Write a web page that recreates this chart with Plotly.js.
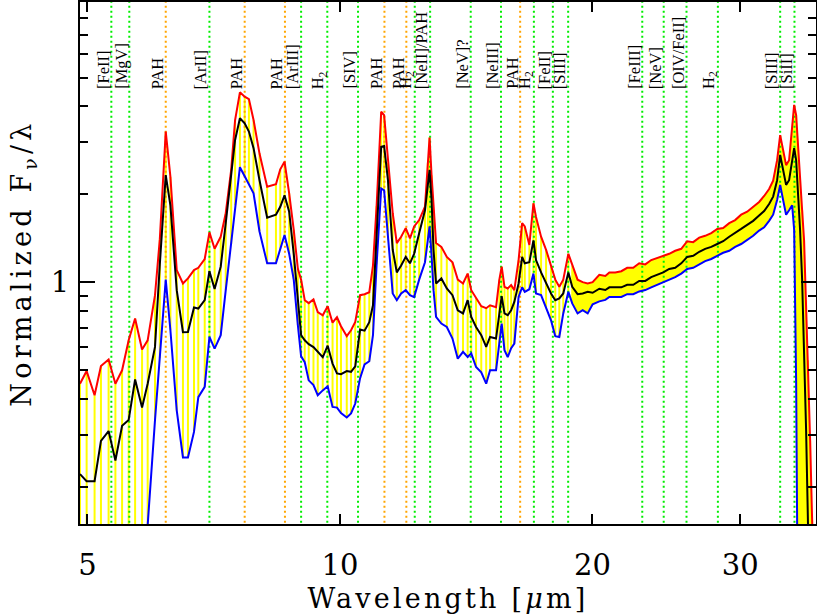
<!DOCTYPE html>
<html><head><meta charset="utf-8">
<script src="https://cdn.plot.ly/plotly-3.0.1.min.js"></script>
<style>
html,body{margin:0;padding:0;background:#fff;}
#chart{width:817px;height:615px;}
.xtitle{letter-spacing:3.2px;}
.ytitle{letter-spacing:4.2px;}
</style>
</head><body><div id="chart"></div>
<script>
const wavelength = [4.90,4.99,5.10,5.19,5.30,5.40,5.50,5.60,5.70,5.81,5.90,6.02,6.10,6.20,6.28,6.39,6.50,6.59,6.70,6.78,6.90,6.99,7.09,7.21,7.31,7.42,7.50,7.60,7.70,7.79,7.89,8.02,8.19,8.39,8.49,8.59,8.70,8.81,8.91,8.99,9.08,9.18,9.30,9.41,9.54,9.67,9.80,9.92,10.03,10.19,10.31,10.43,10.57,10.70,10.84,10.95,11.06,11.20,11.29,11.41,11.56,11.69,11.83,11.98,12.12,12.26,12.43,12.63,12.73,12.79,12.86,12.93,13.02,13.21,13.41,13.62,13.82,14.02,14.20,14.34,14.53,14.74,14.94,15.10,15.35,15.49,15.59,15.71,15.85,16.00,16.14,16.33,16.49,16.61,16.82,17.01,17.13,17.37,17.61,17.85,18.06,18.26,18.46,18.72,18.92,19.20,19.47,19.74,20.01,20.38,20.72,20.95,21.29,21.65,22.00,22.37,22.74,23.12,23.50,23.89,24.29,24.69,25.10,25.52,25.94,26.37,26.81,27.25,27.71,28.17,28.63,29.11,29.59,30.08,30.58,31.09,31.60,32.04,32.48,32.84,33.20,33.48,33.75,34.03,34.31,34.60,34.79,34.98,35.17,35.36,35.56,35.75,35.95,36.15,36.35,36.55,36.75];
const fluxMax = [0.450,0.497,0.411,0.517,0.544,0.450,0.500,0.633,0.751,0.589,0.633,0.903,1.40,3.27,2.29,1.10,0.99,1.03,1.10,1.12,1.20,1.48,1.30,1.43,1.72,2.42,3.58,4.45,4.30,4.22,3.58,2.75,2.12,2.16,2.43,2.58,2.01,1.51,1.11,1.02,0.868,0.848,0.873,0.790,0.771,0.828,0.727,0.759,0.707,0.654,0.685,0.732,0.903,0.910,0.924,1.14,1.82,3.82,3.72,2.55,1.72,1.36,1.43,1.53,1.41,1.55,1.63,1.81,2.55,3.12,2.32,1.76,1.36,1.32,1.22,1.17,1.02,0.99,1.07,0.939,0.882,0.828,0.815,0.834,0.821,1.02,1.13,0.964,0.952,0.977,0.939,1.19,1.59,1.55,1.34,1.86,1.67,1.43,1.29,1.13,1.02,0.964,1.02,1.25,1.14,1.02,1.00,0.99,1.00,1.06,1.05,1.08,1.08,1.09,1.12,1.12,1.16,1.15,1.19,1.21,1.23,1.25,1.28,1.30,1.38,1.37,1.42,1.44,1.47,1.52,1.53,1.59,1.63,1.70,1.74,1.81,1.88,1.97,2.08,2.22,2.61,3.18,2.83,2.51,2.61,3.31,4.03,3.72,2.83,2.23,1.76,1.39,0.868,0.541,0.288,0.154,0.08];
const fluxMean = [0.221,0.209,0.209,0.287,0.310,0.246,0.323,0.338,0.465,0.373,0.450,0.601,1.15,2.32,1.83,0.939,0.675,0.676,0.820,0.813,0.868,1.09,0.948,1.13,1.59,2.29,3.06,3.63,3.49,3.27,2.87,2.23,1.66,1.70,1.81,1.98,1.74,1.25,0.880,0.659,0.633,0.614,0.600,0.578,0.554,0.607,0.527,0.488,0.485,0.497,0.494,0.516,0.689,0.683,0.730,0.834,1.48,2.90,2.92,2.23,1.29,1.08,1.14,1.22,1.16,1.25,1.47,1.76,2.15,2.42,1.91,1.29,0.99,1.03,0.952,0.903,0.802,0.782,0.868,0.761,0.703,0.659,0.601,0.650,0.642,0.782,0.896,0.782,0.771,0.802,0.856,0.99,1.22,1.16,1.17,1.39,1.19,1.08,1.00,0.915,0.868,0.880,0.915,1.08,0.964,0.910,0.915,0.927,0.92,0.95,0.94,0.96,0.96,0.96,0.98,0.98,1.01,1.01,1.04,1.06,1.08,1.11,1.12,1.16,1.22,1.23,1.27,1.30,1.32,1.35,1.38,1.43,1.47,1.52,1.57,1.62,1.69,1.75,1.85,1.96,2.23,2.72,2.42,2.15,2.23,2.61,2.87,2.61,2.06,1.51,1.02,0.586,0.312,0.142,0.06,0.05,0.05];
const fluxMin = [0.10,0.10,0.09,0.11,0.11,0.10,0.11,0.12,0.13,0.12,0.148,0.338,0.55,1.02,0.685,0.365,0.252,0.252,0.308,0.405,0.439,0.650,0.593,0.659,0.939,1.35,1.83,2.47,2.30,2.16,2.01,1.49,1.16,1.16,1.30,1.45,1.25,1.02,0.713,0.558,0.533,0.462,0.445,0.411,0.427,0.441,0.375,0.373,0.357,0.345,0.356,0.385,0.470,0.524,0.537,0.659,1.15,2.09,2.06,1.39,0.915,0.868,0.915,0.939,0.903,0.889,1.02,1.17,1.39,1.55,1.24,0.939,0.761,0.722,0.703,0.642,0.548,0.578,0.555,0.571,0.513,0.492,0.450,0.500,0.500,0.617,0.722,0.586,0.555,0.595,0.617,0.891,0.961,0.927,0.946,1.07,0.915,0.903,0.823,0.741,0.654,0.650,0.782,0.927,0.846,0.782,0.802,0.782,0.84,0.86,0.87,0.89,0.89,0.89,0.91,0.91,0.93,0.94,0.96,0.98,1.00,1.02,1.04,1.07,1.11,1.12,1.15,1.18,1.20,1.23,1.26,1.28,1.32,1.35,1.39,1.44,1.50,1.54,1.62,1.70,1.91,2.15,1.91,1.70,1.76,1.83,1.51,0.46,0.05,0.05,0.05,0.05,0.05,0.05,0.05,0.05,0.04];

const lineWavelengths = [5.34,5.61,6.2,6.99,7.7,8.6,8.99,9.66,10.51,11.3,12.0,12.28,12.81,14.32,15.56,16.4,17.03,17.94,18.71,22.93,24.32,25.89,28.22,33.48,34.82];
const lineLabels = ['[FeII]','[MgV]','PAH','[ArII]','PAH','PAH','[ArIII]','H<sub>2</sub>','[SIV]','PAH','PAH','H<sub>2</sub>','[NeII]/PAH','[NeV]?','[NeIII]','PAH','H<sub>2</sub>','[FeII]','[SIII]','[FeIII]','[NeV]','[OIV/FeII]','H<sub>2</sub>','[SIII]','[SiII]'];
const lineKinds = ['ion','ion','pah','ion','pah','pah','ion','ion','ion','pah','pah','ion','ion','ion','ion','pah','ion','ion','ion','ion','ion','ion','ion','ion','ion'];

const xTickValues = [5,10,20,30];
const xTickLabels = ['5','10','20','30'];
const yTickValues = [1];
const yTickLabels = ['1'];
const yMinorTicks = [0.2,0.3,0.4,0.5,0.6,0.7,0.8,0.9,2,3,4,5,6,7,8,9];

const solidStart = 18.9;
const serif = 'DejaVu Serif, serif';
const labelFont = 'Liberation Serif, serif';

const hx = [], hy = [];
wavelength.forEach((w, i) => { hx.push(w, w, null); hy.push(fluxMin[i], fluxMax[i], null); });

const sx = [], sy = [];
wavelength.forEach((w, i) => { if (w >= solidStart) { sx.push(w); sy.push(fluxMin[i]); } });
for (let i = wavelength.length - 1; i >= 0; i--) { if (wavelength[i] >= solidStart) { sx.push(wavelength[i]); sy.push(fluxMax[i]); } }

function markerLines(kind) {
  const x = [], y = [];
  lineWavelengths.forEach((w, i) => { if (lineKinds[i] === kind) { x.push(w, w, null); y.push(0.01, 100, null); } });
  return {x, y};
}
const ion = markerLines('ion'), pah = markerLines('pah');

const traces = [
  {x: hx, y: hy, mode: 'lines', line: {color: '#ffff00', width: 2}, hoverinfo: 'skip', showlegend: false},
  {x: sx, y: sy, mode: 'lines', fill: 'toself', fillcolor: '#ffff00', line: {width: 0}, hoverinfo: 'skip', showlegend: false},
  {x: ion.x, y: ion.y, mode: 'lines', line: {color: '#00ee00', width: 2, dash: '2px,3px'}, hoverinfo: 'skip', showlegend: false},
  {x: pah.x, y: pah.y, mode: 'lines', line: {color: '#ffa500', width: 2, dash: '2px,3px'}, hoverinfo: 'skip', showlegend: false},
  {x: wavelength, y: fluxMin, mode: 'lines', line: {color: '#0000ff', width: 2}, hoverinfo: 'skip', showlegend: false},
  {x: wavelength, y: fluxMax, mode: 'lines', line: {color: '#ff0000', width: 2}, hoverinfo: 'skip', showlegend: false},
  {x: wavelength, y: fluxMean, mode: 'lines', line: {color: '#000000', width: 2}, hoverinfo: 'skip', showlegend: false}
];

const annotations = lineWavelengths.map((w, i) => ({
  x: Math.log10(w), xref: 'x', y: 0.8313, yref: 'paper',
  text: lineLabels[i], showarrow: false, textangle: -90,
  xanchor: 'right', yanchor: 'bottom', borderpad: 0, xshift: 2,
  font: {family: labelFont, size: 16.5, color: '#000'}
}));

const layout = {
  width: 817, height: 615,
  margin: {l: 80, r: 1, t: 2, b: 91},
  paper_bgcolor: '#fff', plot_bgcolor: '#fff',
  showlegend: false,
  xaxis: {
    type: 'log', range: [Math.log10(4.90), Math.log10(36.94)],
    tickmode: 'array', tickvals: xTickValues, ticktext: xTickLabels,
    ticks: 'inside', ticklen: 10, tickwidth: 2, tickcolor: '#000',
    showline: true, linecolor: '#000', linewidth: 2, mirror: 'ticks',
    showgrid: false, zeroline: false,
    tickfont: {family: serif, size: 29, color: '#000'},
    ticklabelstandoff: 14,
    title: {text: 'Wavelength [<i>μ</i>m]', font: {family: serif, size: 27, color: '#000'}, standoff: 8}
  },
  yaxis: {
    type: 'log', range: [-0.826, 0.957],
    tickmode: 'array', tickvals: yTickValues, ticktext: yTickLabels,
    ticks: 'inside', ticklen: 15, tickwidth: 2, tickcolor: '#000',
    minor: {tickmode: 'array', tickvals: yMinorTicks, ticks: 'inside', ticklen: 8, tickwidth: 2, tickcolor: '#000', showgrid: false},
    showline: true, linecolor: '#000', linewidth: 2, mirror: 'ticks',
    showgrid: false, zeroline: false,
    tickfont: {family: serif, size: 29, color: '#000'},
    ticklabelstandoff: 3,
    title: {text: 'Normalized F<sub>ν</sub>/λ', font: {family: serif, size: 27, color: '#000'}, standoff: 11}
  },
  annotations: annotations
};

Plotly.newPlot('chart', traces, layout, {staticPlot: true, displayModeBar: false});
</script>
</body></html>
